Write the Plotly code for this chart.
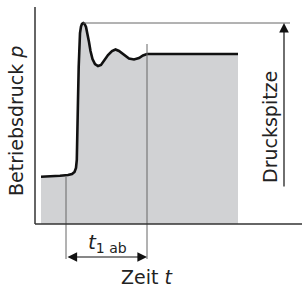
import plotly.graph_objects as go

# Pressure curve (time t, pressure p) in arbitrary chart units
t_curve = [6, 15, 25, 33, 37, 39.5, 41, 41.8, 42.4, 43, 43.7, 44.3, 45, 46, 47, 48.3,
           49.5, 51, 52.5, 54, 55.5, 57.5, 60, 63, 66, 69, 73, 77, 80.5, 84, 89, 94,
           99, 104, 108, 112, 203]
p_curve = [47.2, 47.5, 48.2, 49, 50, 52, 56, 64, 84, 124, 157, 179, 191, 197.5, 200.2, 201,
           200.2, 197, 191, 182, 173, 165, 160, 158, 159, 163, 169, 173, 174.5, 173, 169, 165.5,
           164.5, 166, 168.5, 170, 170]

# Reference levels / markers
p_peak = 201
t_peak = 48.3
t_start = 31        # start of t_1ab
t_end = 112         # end of t_1ab
p_start = 47
p_settle = 180
t_peak_line_end = 255
t_axis_end = 267
p_axis_end = 217
t_druck = 249
p_druck_bottom = 36
p_dim = -33
p_ext_bottom = -35

FONT = "DejaVu Sans"
TXT = "#222222"
AX = "#333333"
GRID = "#666666"

fig = go.Figure()

# Filled area under the curve
fig.add_trace(go.Scatter(x=t_curve, y=p_curve, mode="lines", fill="tozeroy",
                         fillcolor="#d1d2d4", line=dict(color="#111111", width=2.6),
                         hoverinfo="skip", showlegend=False))

# Peak reference line
fig.add_trace(go.Scatter(x=[t_peak, t_peak_line_end], y=[p_peak, p_peak], mode="lines",
                         line=dict(color=GRID, width=1), showlegend=False))
# Extension lines for t_1ab
fig.add_trace(go.Scatter(x=[t_start, t_start], y=[p_start, p_ext_bottom], mode="lines",
                         line=dict(color=GRID, width=1), showlegend=False))
fig.add_trace(go.Scatter(x=[t_end, t_end], y=[p_settle, p_ext_bottom], mode="lines",
                         line=dict(color=GRID, width=1), showlegend=False))
# Axes
fig.add_trace(go.Scatter(x=[0, t_axis_end], y=[0, 0], mode="lines",
                         line=dict(color=AX, width=1.5), showlegend=False))
fig.add_trace(go.Scatter(x=[0, 0], y=[0, p_axis_end], mode="lines",
                         line=dict(color=AX, width=1.5), showlegend=False))

# Arrows
fig.add_annotation(x=t_end, y=p_dim, ax=t_start, ay=p_dim, axref="x", ayref="y",
                   xref="x", yref="y", text="", showarrow=True, arrowhead=2,
                   arrowside="end+start", arrowsize=1.6, arrowwidth=1.2, arrowcolor="#111111")
fig.add_annotation(x=t_druck, y=p_peak, ax=t_druck, ay=p_druck_bottom, axref="x", ayref="y",
                   xref="x", yref="y", text="", showarrow=True, arrowhead=2,
                   arrowsize=1.6, arrowwidth=1.2, arrowcolor="#111111")

# Labels
fig.add_annotation(x=-19, y=103, text="Betriebsdruck <i>p</i>", textangle=-90,
                   showarrow=False, font=dict(family=FONT, size=19, color=TXT))
fig.add_annotation(x=235, y=97, text="Druckspitze", textangle=-90,
                   showarrow=False, font=dict(family=FONT, size=19, color=TXT))
fig.add_annotation(x=72, y=-19, text="<i>t</i><sub>1 ab</sub>",
                   showarrow=False, font=dict(family=FONT, size=20, color=TXT))
fig.add_annotation(x=112, y=-53, text="Zeit <i>t</i>",
                   showarrow=False, font=dict(family=FONT, size=19, color=TXT))

fig.update_layout(width=302, height=288, margin=dict(l=0, r=0, t=0, b=0),
                  paper_bgcolor="white", plot_bgcolor="white",
                  xaxis=dict(range=[-35, 267], visible=False, fixedrange=True),
                  yaxis=dict(range=[-64, 224], visible=False, fixedrange=True),
                  showlegend=False)

fig.write_html("out.html", config={"displayModeBar": False, "staticPlot": True},
               post_script="document.body.style.margin='0';document.body.style.overflow='hidden';")
